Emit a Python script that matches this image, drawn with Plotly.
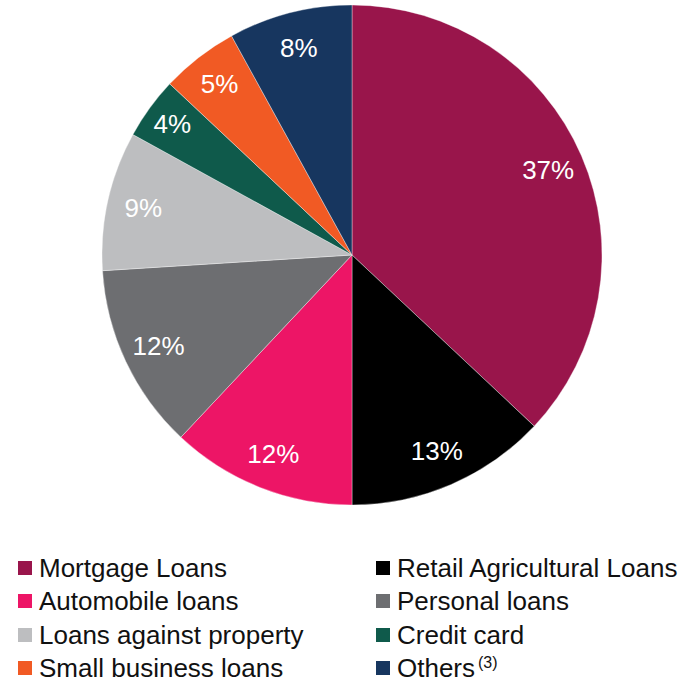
import plotly.graph_objects as go

categories = ["Mortgage Loans", "Retail Agricultural Loans", "Automobile loans",
              "Personal loans", "Loans against property", "Credit card",
              "Small business loans", "Others"]
legend_labels = ["Mortgage Loans", "Retail Agricultural Loans", "Automobile loans",
                 "Personal loans", "Loans against property", "Credit card",
                 "Small business loans", "Others"]
footnote_mark = "(3)"
values = [37, 13, 12, 12, 9, 4, 5, 8]
colors = ["#99154B", "#000000", "#ED1566", "#6D6E71", "#BDBEC0", "#0F5A4B", "#F15A24", "#17365F"]

W, H = 682, 683
FONT = "Liberation Sans, Arial, sans-serif"
dom = dict(x=[102 / W, 602 / W], y=[1 - 505 / H, 1 - 5 / H])

fig = go.Figure()
# coloured slices
fig.add_trace(go.Pie(
    labels=categories, values=values, sort=False, direction="clockwise", rotation=0,
    marker=dict(colors=colors, line=dict(color="rgba(255,255,255,0.6)", width=0.6)),
    textinfo="none", hoverinfo="label+percent", showlegend=False, domain=dom,
))
# transparent ring overlay carrying the percentage labels near the rim
fig.add_trace(go.Pie(
    labels=categories, values=values, sort=False, direction="clockwise", rotation=0,
    hole=0.71,
    marker=dict(colors=["rgba(0,0,0,0)"] * len(values), line=dict(width=0)),
    texttemplate="%{value}%", textposition="inside", insidetextorientation="horizontal",
    textfont=dict(family=FONT, size=26, color="white"),
    hoverinfo="skip", showlegend=False, domain=dom,
))

# two-column legend built from annotations and square shapes
col_x = [18, 376]
row_y = [568, 601, 635, 668]
sq = 14
for i, (lab, col) in enumerate(zip(legend_labels, colors)):
    cx = col_x[i % 2]
    cy = row_y[i // 2]
    fig.add_shape(type="rect", xref="paper", yref="paper",
                  x0=cx / W, x1=(cx + sq) / W,
                  y0=1 - (cy + sq / 2) / H, y1=1 - (cy - sq / 2) / H,
                  fillcolor=col, line=dict(width=0))
    fig.add_annotation(xref="paper", yref="paper", x=(cx + 19) / W, y=1 - cy / H,
                       xanchor="left", yanchor="middle", text=lab, showarrow=False,
                       font=dict(family=FONT, size=26, color="#111111"))
# footnote marker after "Others"
fig.add_annotation(xref="paper", yref="paper", x=476 / W, y=1 - 662 / H,
                   xanchor="left", yanchor="middle", text=footnote_mark, showarrow=False,
                   font=dict(family=FONT, size=16, color="#111111"))

fig.update_layout(
    width=W, height=H, margin=dict(l=0, r=0, t=0, b=0),
    paper_bgcolor="white", plot_bgcolor="white",
    uniformtext=dict(minsize=26, mode="show"),
)
fig.write_html("out.html", config={"displayModeBar": False},
               post_script="document.body.style.margin='0';document.body.style.padding='0';")
